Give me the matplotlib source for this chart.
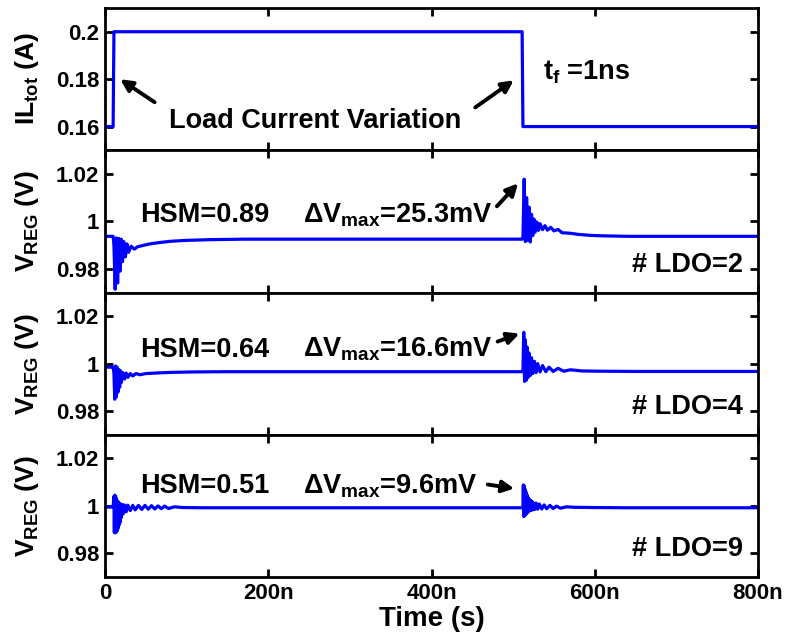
import matplotlib.pyplot as plt
import numpy as np

plt.rcParams['font.family'] = ['Liberation Sans', 'DejaVu Sans']
plt.rcParams['font.weight'] = 'bold'
plt.rcParams['mathtext.fontset'] = 'custom'
plt.rcParams['mathtext.rm'] = 'Liberation Sans:bold'
plt.rcParams['mathtext.bf'] = 'Liberation Sans:bold'
plt.rcParams['mathtext.it'] = 'Liberation Sans:bold'

# time axis in ns
t_il = [0, 10, 11, 511, 512, 800]
il_tot = [0.16, 0.16, 0.2, 0.2, 0.16, 0.16]

# (time ns, V_REG) samples, 2 LDOs
ldo2_trace = [(0, 0.9937), (10, 0.9937), (11, 0.9900), (12.5, 0.9714), (14, 0.9930), (15.5, 0.9740),
              (17, 0.9928), (18.5, 0.9790), (20, 0.9925), (21.5, 0.9830), (23, 0.9915), (25, 0.9850),
              (27, 0.9905), (29, 0.9870), (32, 0.9895), (36, 0.9883), (40, 0.9893), (46, 0.9898),
              (55, 0.9905), (65, 0.9910), (80, 0.9916), (100, 0.9920), (130, 0.9923), (170, 0.9925),
              (250, 0.9925), (511, 0.9925), (512, 0.9930), (513.5, 1.0178), (515, 0.9915),
              (516.5, 1.0100), (518, 0.9920), (519.5, 1.0060), (521, 0.9913), (522.5, 1.0030),
              (524, 0.9940), (525.5, 1.0010), (527, 0.9955), (529, 0.9998), (531, 0.9962),
              (533, 0.9990), (536, 0.9965), (539, 0.9982), (542, 0.9963), (546, 0.9975),
              (550, 0.9960), (555, 0.9966), (560, 0.9952), (570, 0.9950), (580, 0.9945),
              (595, 0.9941), (610, 0.9939), (640, 0.9937), (700, 0.9937), (800, 0.9937)]

# 4 LDOs
ldo4_trace = [(0, 0.9985), (10, 0.9985), (11, 0.9960), (12, 0.9850), (13, 0.9990), (14, 0.9860),
              (15, 0.9985), (16, 0.9880), (17, 0.9975), (18, 0.9900), (19, 0.9970), (20, 0.9920),
              (22, 0.9962), (24, 0.9935), (26, 0.9960), (28, 0.9942), (31, 0.9958), (34, 0.9948),
              (38, 0.9958), (43, 0.9953), (50, 0.9958), (60, 0.9960), (80, 0.9963), (110, 0.9965),
              (150, 0.9966), (511, 0.9966), (512, 0.9970), (513, 1.0132), (514, 0.9925),
              (515, 1.0100), (516, 0.9930), (517, 1.0070), (518, 0.9940), (519.5, 1.0045),
              (521, 0.9950), (522.5, 1.0025), (524, 0.9958), (526, 1.0010), (528, 0.9962),
              (530, 1.0000), (533, 0.9965), (536, 0.9992), (540, 0.9966), (544, 0.9985),
              (549, 0.9967), (555, 0.9980), (562, 0.9968), (570, 0.9974), (585, 0.9969),
              (610, 0.9968), (650, 0.9967), (800, 0.9967)]

# 9 LDOs
ldo9_trace = [(0, 0.9995), (10, 0.9995), (11, 1.0040), (11.5, 0.9888), (12, 1.0045), (12.5, 0.9886),
              (13, 1.0040), (13.5, 0.9888), (14, 1.0030), (14.5, 0.9892), (15, 1.0022), (15.5, 0.9900),
              (16, 1.0018), (16.5, 0.9910), (17, 1.0012), (17.5, 0.9920), (18, 1.0010), (18.5, 0.9930),
              (19, 1.0008), (20, 0.9950), (21, 1.0006), (22, 0.9965), (24, 1.0004), (26, 0.9975),
              (28, 1.0003), (31, 0.9980), (34, 1.0002), (37, 0.9983), (41, 1.0002), (45, 0.9985),
              (49, 1.0002), (53, 0.9986), (57, 1.0001), (61, 0.9987), (65, 1.0000), (69, 0.9988),
              (73, 0.9999), (78, 0.9989), (85, 0.9996), (95, 0.9993), (120, 0.9992), (511, 0.9992),
              (512, 0.9995), (512.5, 1.0088), (513, 0.9955), (513.5, 1.0085), (514, 0.9958),
              (514.5, 1.0070), (515, 0.9962), (515.5, 1.0060), (516, 0.9966), (516.5, 1.0050),
              (517, 0.9970), (517.5, 1.0042), (518, 0.9974), (518.5, 1.0035), (519, 0.9977),
              (520, 1.0028), (521, 0.9980), (522, 1.0022), (523, 0.9982), (524, 1.0016),
              (526, 0.9984), (528, 1.0012), (530, 0.9986), (532, 1.0008), (535, 0.9987),
              (538, 1.0004), (541, 0.9988), (545, 1.0002), (549, 0.9989), (553, 0.9999),
              (558, 0.9990), (565, 0.9996), (575, 0.9994), (600, 0.9993), (640, 0.9992),
              (800, 0.9992)]

x_ticks = [0, 200, 400, 600, 800]
x_ticklabels = ['0', '200n', '400n', '600n', '800n']
v_ticks = [0.98, 1.0, 1.02]
v_ticklabels = ['0.98', '1', '1.02']
il_ticks = [0.16, 0.18, 0.2]
il_ticklabels = ['0.16', '0.18', '0.2']

hsm = ['0.89', '0.64', '0.51']
dv_max = ['25.3', '16.6', '9.6']
n_ldo = ['2', '4', '9']

fig, axes = plt.subplots(4, 1, figsize=(7.88, 6.37), dpi=100, sharex=True)
fig.subplots_adjust(left=0.1332, right=0.962, top=0.9874, bottom=0.0942, hspace=0)

blue = '#0000ff'
arrow = dict(arrowstyle='-|>,head_length=0.7,head_width=0.35', color='k', lw=2.8)
for ax in axes:
    ax.set_xlim(0, 800)
    ax.set_xticks(x_ticks)
    ax.tick_params(direction='in', length=6, width=2, top=True, right=True,
                   labelsize=16, pad=4)
    for s in ax.spines.values():
        s.set_linewidth(2)
    ax.yaxis.set_label_coords(-0.098, 0.5)

ax = axes[0]
ax.plot(t_il, il_tot, color=blue, lw=2.3)
ax.set_ylim(0.15, 0.21)
ax.set_yticks(il_ticks)
ax.set_yticklabels(il_ticklabels)
ax.set_ylabel(r'IL$_{\mathrm{tot}}$ (A)', fontsize=19, fontweight='bold')
ax.text(437, 0.1623, 'Load Current Variation', fontsize=19.5, fontweight='bold',
        ha='right', va='center')
ax.annotate('', xy=(15.9, 0.1806), xytext=(63.7, 0.1696), arrowprops=arrow)
ax.annotate('', xy=(503.5, 0.1802), xytext=(450.8, 0.1674), arrowprops=arrow)
ax.text(536.6, 0.1828, r't$_{\mathrm{f}}$ =1ns', fontsize=19.5, fontweight='bold',
        ha='left', va='center')

v_series = [ldo2_trace, ldo4_trace, ldo9_trace]
text_y = [1.0025, 1.0059, 1.0083]
ldo_y = [0.9818, 0.9818, 0.9820]
arrow_tail = [(477.8, 1.0055), (477.8, 1.0089), (465.5, 1.0092)]
arrow_tip = [(508.4, 1.0169), (510.9, 1.0131), (504.7, 1.0071)]
for i, ax in enumerate(axes[1:]):
    t, v = zip(*v_series[i])
    ax.plot(t, v, color=blue, lw=2.3)
    ax.set_ylim(0.97, 1.03)
    ax.set_yticks(v_ticks)
    ax.set_yticklabels(v_ticklabels)
    ax.set_ylabel(r'V$_{\mathrm{REG}}$ (V)', fontsize=19, fontweight='bold')
    ax.text(42.9, text_y[i], 'HSM=' + hsm[i], fontsize=19.5, fontweight='bold',
            ha='left', va='center')
    ax.text(242.6, text_y[i], r'$\Delta$V$_{\mathrm{max}}$=' + dv_max[i] + 'mV', fontsize=19.5,
            fontweight='bold', ha='left', va='center')
    ax.annotate('', xy=arrow_tip[i], xytext=arrow_tail[i], arrowprops=arrow)
    ax.text(781.6, ldo_y[i], '# LDO=' + n_ldo[i], fontsize=19.5, fontweight='bold',
            ha='right', va='center')

axes[-1].set_xticklabels(x_ticklabels)
axes[-1].set_xlabel('Time (s)', fontsize=20, fontweight='bold', labelpad=2)

fig.savefig('out.png', dpi=100)
